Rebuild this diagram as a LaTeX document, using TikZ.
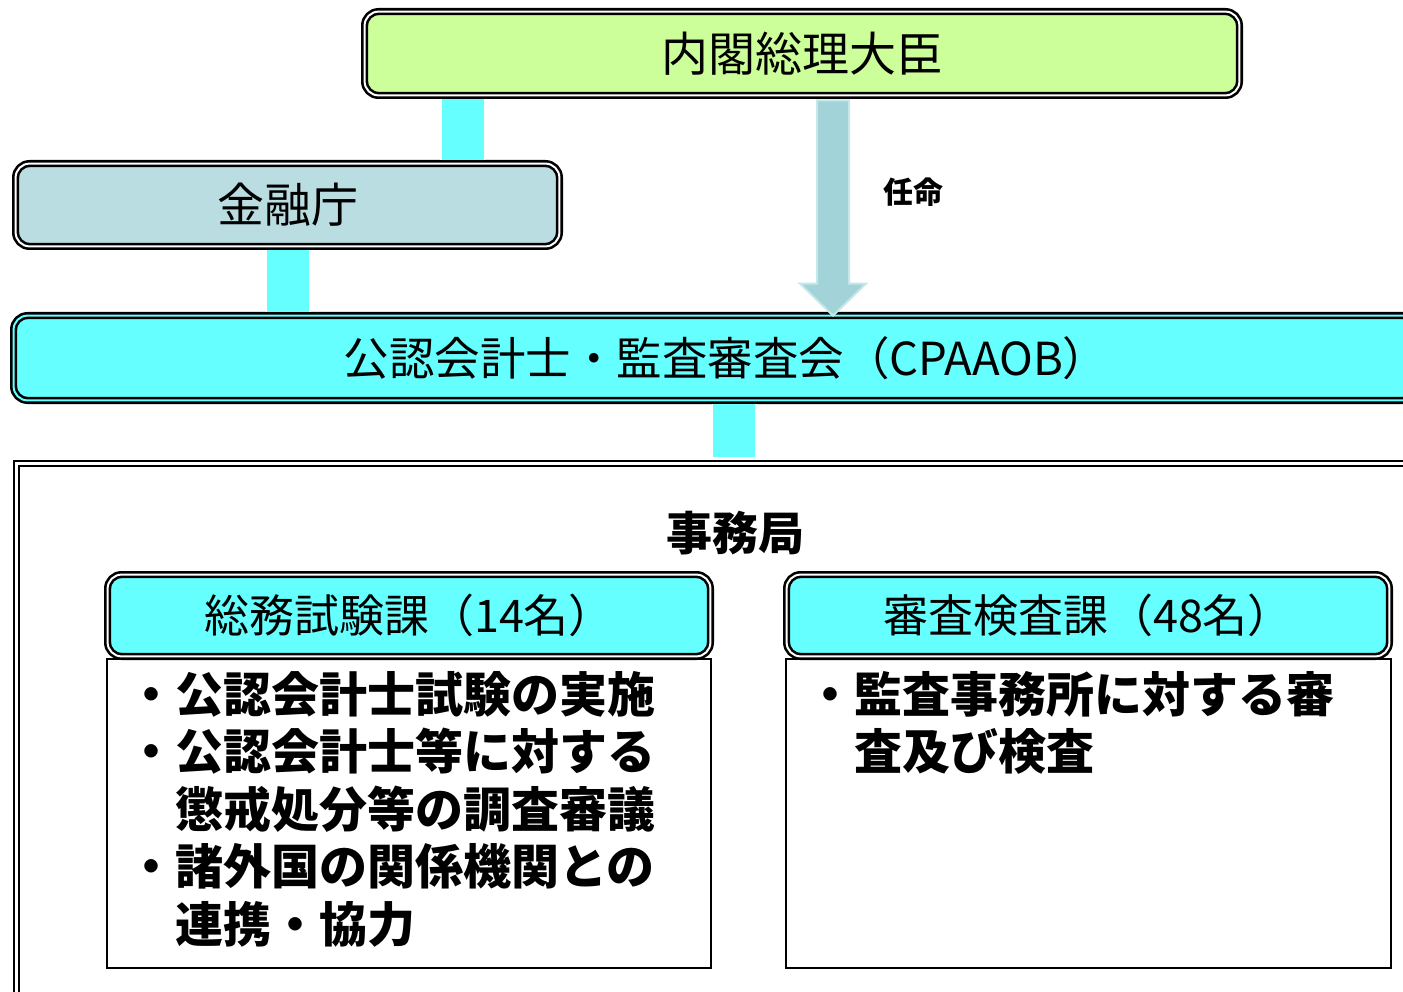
\documentclass[tikz,border=0pt]{standalone}
\usepackage{fontspec}
\newfontfamily\cjk{Noto Sans CJK JP}
\usetikzlibrary{calc}
\definecolor{pmgreen}{HTML}{CCFF99}
\definecolor{fsablue}{HTML}{B9DDE1}
\definecolor{barcyan}{HTML}{66FFFF}
\definecolor{arrowfill}{HTML}{A2D3D8}
\definecolor{arrowedge}{HTML}{C6E7EA}
\begin{document}
\begin{tikzpicture}[x=1pt,y=-1pt,
  dbox/.style={draw=black, double=white, double distance=2pt, line width=2.6pt,
    rounded corners=14pt, inner sep=0pt, outer sep=0pt},
  headfont/.style={font=\cjk\fontsize{47}{52}\selectfont},
  divfont/.style={font=\cjk\fontsize{45}{50}\selectfont},
  connbar/.style={draw=white, double=barcyan, double distance=42pt, line width=1.5pt,
    shorten <=4pt, shorten >=4pt},
  bodytext/.style={font=\cjk\bfseries\fontsize{48}{57.5}\selectfont, align=left,
    inner sep=0pt, anchor=north west},
  plainbox/.style={draw=black, line width=2.2pt, inner sep=0pt}]
\clip (0,0) rectangle (1403,992);
\fill[white] (0,0) rectangle (1403,992);

% top boxes
\node[dbox, headfont, fill=pmgreen, minimum width=874.8pt, minimum height=83.8pt]
  (pm) at (802,53.5) {内閣総理大臣};
\node[dbox, headfont, fill=fsablue, minimum width=543.8pt, minimum height=82.8pt]
  (fsa) at (287.5,205) {金融庁};
\node[dbox, font=\cjk\fontsize{45.5}{52}\selectfont, fill=barcyan, double=barcyan,
  minimum width=1402.8pt, minimum height=84.8pt]
  (cpa) at (715,358) {\hspace*{22pt}公認会計士・監査審査会（CPAAOB）};

% secretariat frame
\draw[draw=black, double=white, double distance=3pt, line width=2.2pt]
  (16.5,463.5) coordinate (secnw) rectangle (1440,1000);
\node[font=\cjk\bfseries\fontsize{46}{52}\selectfont, inner sep=0pt] (sec) at (735,533) {事務局};

% division headers
\node[dbox, divfont, fill=barcyan, minimum width=602.8pt, minimum height=81.8pt]
  (divA) at (409,615.5) {総務試験課（14名）};
\node[dbox, divfont, fill=barcyan, minimum width=602.8pt, minimum height=81.8pt]
  (divB) at (1088,615.5) {審査検査課（48名）};

% content boxes
\draw[plainbox] (107,659) coordinate (boxAnw) rectangle (711,968);
\draw[plainbox] (786,659) coordinate (boxBnw) rectangle (1391,968);

\node[bodytext] (txtA) at (127,671)
  {・公認会計士試験の実施\\
   ・公認会計士等に対する\\
   \hspace*{1em}懲戒処分等の調査審議\\
   ・諸外国の関係機関との\\
   \hspace*{1em}連携・協力};
\node[bodytext] (txtB) at (806,671)
  {・監査事務所に対する審\\
   \hspace*{1em}査及び検査};

% connectors
\draw[connbar] (pm.south -| 462.5,0) -- (fsa.north -| 462.5,0);
\draw[connbar] (fsa.south -| 288,0) -- (cpa.north -| 288,0);
\draw[connbar] (cpa.south -| 734,0) -- (734,461);

% appointment arrow
\coordinate (atop) at (pm.south -| 833,0);
\coordinate (atip) at (cpa.north -| 833,0);
\fill[arrowfill, draw=arrowedge, line width=2pt, line join=miter]
  ($(atop)+(-16,5)$) -- ($(atop)+(16,5)$) -- ($(atip)+(16,-32)$) -- ($(atip)+(33,-32)$)
  -- (atip) -- ($(atip)+(-33,-32)$) -- ($(atip)+(-16,-32)$) -- cycle;
\node[font=\cjk\bfseries\fontsize{30}{34}\selectfont, inner sep=0pt] (appt) at (913,192) {任命};
\end{tikzpicture}
\end{document}
